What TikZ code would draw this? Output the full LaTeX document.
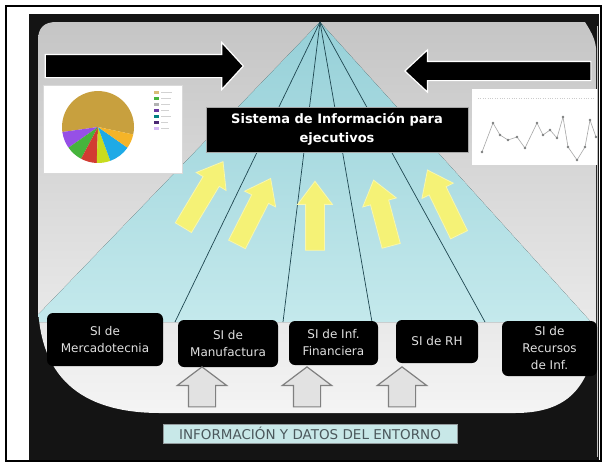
\documentclass[tikz,border=0pt]{standalone}
\usepackage{fontspec}
\setmainfont{DejaVu Sans}
\usepackage{xcolor}
\usepackage{tikz}
\usetikzlibrary{shapes.arrows}
\definecolor{slide_dark}{RGB}{20, 20, 20}
\definecolor{slide_top}{RGB}{196, 196, 196}
\definecolor{slide_bot}{RGB}{245, 245, 245}
\definecolor{fan_top}{RGB}{150, 208, 216}
\definecolor{fan_bot}{RGB}{196, 233, 236}
\definecolor{ray_line}{RGB}{30, 70, 80}
\definecolor{arrow_yellow}{RGB}{245, 242, 118}
\definecolor{arrow_gray}{RGB}{226, 226, 226}
\definecolor{env_fill}{RGB}{200, 232, 232}
\definecolor{env_text}{RGB}{75, 88, 92}
\definecolor{pie_gold}{RGB}{200, 160, 62}
\definecolor{pie_purple}{RGB}{150, 80, 230}
\definecolor{pie_green}{RGB}{70, 180, 60}
\definecolor{pie_red}{RGB}{210, 60, 50}
\definecolor{pie_lime}{RGB}{200, 220, 30}
\definecolor{pie_cyan}{RGB}{30, 170, 230}
\definecolor{pie_orange}{RGB}{245, 180, 40}

\begin{document}
\begin{tikzpicture}[x=1pt, y=-1pt,
    sibox/.style={fill=black, rounded corners=6pt, text=white!88!black, inner sep=0pt,
                  align=center, font=\fontsize{12}{17}\selectfont},
    blkarrow/.style={single arrow, fill=black, draw=white, line width=1.2pt, inner xsep=0pt},
    yarrow/.style={single arrow, fill=arrow_yellow, draw=arrow_yellow!60!white, line width=0.8pt,
                   inner xsep=0pt, inner ysep=9pt, single arrow head extend=8pt,
                   single arrow tip angle=74},
    garrow/.style={single arrow, fill=arrow_gray, draw=gray, line width=1.2pt, rotate=90,
                   minimum height=40pt, inner xsep=0pt, inner ysep=13pt,
                   single arrow head extend=11pt, single arrow tip angle=106},
    ray/.style={draw=ray_line, line width=0.7pt}]
        \useasboundingbox (0,0) rectangle (605,464);
        \fill[white] (0,0) rectangle (605,464);
        \fill[slide_dark] (29,14) rectangle (599,461);
        \draw[line width=1.5pt] (6,6) rectangle (601,461);
        \draw[gray!50, line width=0.8pt] (597.5,26) -- (597.5,457);

        \begin{scope}
          \clip (38,300) -- (38,40) .. controls (38,28) and (44,22) .. (56,22)
            -- (585,22) .. controls (590,30) and (595,38) .. (596,48)
            -- (596,330) .. controls (592,390) and (565,413) .. (515,413)
            -- (160,413) .. controls (90,413) and (38,385) .. (38,300) -- cycle;
          \fill[top color=slide_top, bottom color=slide_bot] (30,14) rectangle (600,420);
          \fill[top color=fan_top, bottom color=fan_bot] (320,22) -- (31,322) -- (591,322) -- cycle;
        \end{scope}

        \coordinate (apex) at (320,22);
        \coordinate (r1) at (175,322);
        \coordinate (r2) at (283,322);
        \coordinate (r3) at (372,322);
        \coordinate (r4) at (485,322);
        \draw[ray] (apex) -- (r1);
        \draw[ray] (apex) -- (r2);
        \draw[ray] (apex) -- (r3);
        \draw[ray] (apex) -- (r4);

        \fill[white] (43,85) rectangle (182,173);
        \draw[gray!30] (43,85) rectangle (182,173);
        \begin{scope}[shift={(98,127)}, yscale=-1]
          \fill[pie_gold] (0,0) -- (-12:36) arc (-12:188:36) -- cycle;
          \fill[pie_purple] (0,0) -- (188:36) arc (188:215:36) -- cycle;
          \fill[pie_green] (0,0) -- (215:36) arc (215:242:36) -- cycle;
          \fill[pie_red] (0,0) -- (242:36) arc (242:268:36) -- cycle;
          \fill[pie_lime] (0,0) -- (268:36) arc (268:290:36) -- cycle;
          \fill[pie_cyan] (0,0) -- (290:36) arc (290:325:36) -- cycle;
          \fill[pie_orange] (0,0) -- (325:36) arc (325:348:36) -- cycle;
        \end{scope}
        \fill[pie_gold!70] (154,91) rectangle (159,94);
        \fill[pie_green] (154,97) rectangle (159,100);
        \fill[gray!60] (154,103) rectangle (159,106);
        \fill[pie_purple!70!black] (154,109) rectangle (159,112);
        \fill[teal] (154,115) rectangle (159,118);
        \fill[pie_purple!50!black] (154,121) rectangle (159,124);
        \fill[pie_purple!40] (154,127) rectangle (159,130);
        \draw[gray!35, line width=1pt] (161,92.5) -- (172,92.5) (161,98.5) -- (171,98.5)
          (161,104.5) -- (170,104.5) (161,110.5) -- (169,110.5) (161,116.5) -- (171,116.5)
          (161,122.5) -- (168,122.5) (161,128.5) -- (169,128.5);

        \fill[white] (472,89) rectangle (597,165);
        \draw[gray!40, dotted] (478,98) -- (595,98);
        \draw[gray!70, line width=0.6pt] plot[mark=*, mark size=0.9pt,
            mark options={fill=teal!30, draw=gray}] coordinates {(482,152) (493,123) (500,135)
            (508,140) (517,137) (525,148) (537,123) (543,135) (550,130) (557,138)
            (563,117) (568,147) (577,160) (585,147) (590,120) (596,137)};

        \node[blkarrow, minimum height=198pt, inner ysep=11pt,
              single arrow head extend=12pt, single arrow tip angle=95]
              (inleft) at (139,66) {};
        \node[blkarrow, minimum height=186pt, inner ysep=9pt,
              single arrow head extend=11.5pt, single arrow tip angle=86, rotate=180]
              (inright) at (503,71) {};

        \node[fill=black, draw=gray!70, line width=0.8pt, minimum width=262pt,
              minimum height=45pt, inner sep=0pt, align=center, text=white,
              font=\bfseries\fontsize{13}{19}\selectfont]
              (eis) at (337,129.5) {Sistema de Información para\\ejecutivos};

        \node[yarrow, minimum height=77pt, rotate=59] (ya1) at (200,200) {};
        \node[yarrow, minimum height=74pt, rotate=63] (ya2) at (251,217) {};
        \node[yarrow, minimum height=69pt, rotate=90] (ya3) at (315,222) {};
        \node[yarrow, minimum height=68pt, rotate=105] (ya4) at (384,219) {};
        \node[yarrow, minimum height=72pt, rotate=116] (ya5) at (446,208) {};

        \node[sibox, minimum width=116pt, minimum height=53pt]
              (merca) at (105,339.5) {SI de\\Mercadotecnia};
        \node[sibox, minimum width=100pt, minimum height=47pt]
              (manuf) at (228,343.5) {SI de\\Manufactura};
        \node[sibox, minimum width=89pt, minimum height=44pt]
              (finan) at (333.5,343) {SI de Inf.\\Financiera};
        \node[sibox, minimum width=82pt, minimum height=43pt]
              (rrhh) at (437,341.5) {SI de RH};
        \node[sibox, minimum width=95pt, minimum height=55pt]
              (recur) at (549.5,348.5) {SI de\\Recursos\\de Inf.};

        \node[garrow] (ga1) at (202,392) {};
        \node[garrow] (ga2) at (307,392) {};
        \node[garrow] (ga3) at (402,392) {};

        \node[fill=env_fill, draw=env_text!60, line width=0.6pt, minimum width=294pt,
              minimum height=19pt, inner sep=0pt, text=env_text,
              font=\fontsize{13.5}{15}\selectfont]
              (entorno) at (310,433.5) {INFORMACIÓN Y DATOS DEL ENTORNO};
      \end{tikzpicture}
\end{document}
